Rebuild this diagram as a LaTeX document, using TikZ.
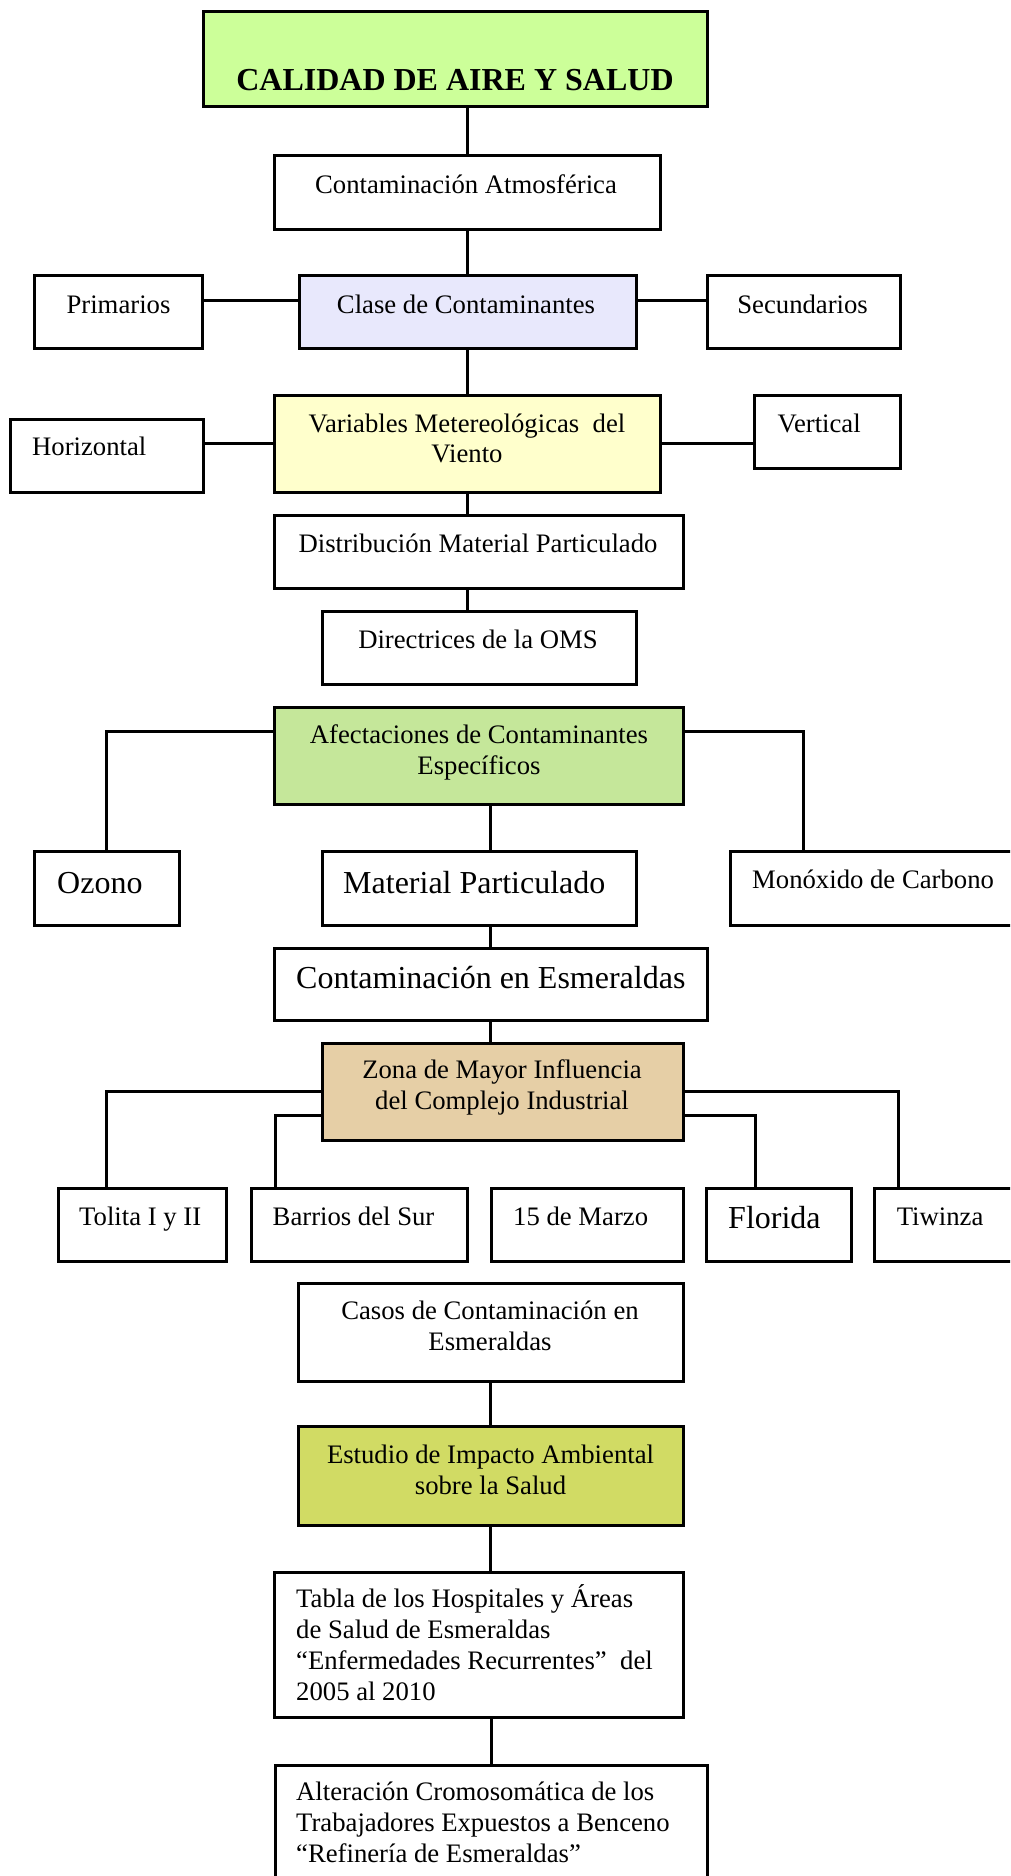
\documentclass[tikz,border=0pt]{standalone}
\usepackage{fontspec}
\setmainfont{Liberation Serif}
\newcommand\fnorm{\fontsize{26.7}{30.7}\selectfont}
\newcommand\fbig{\fontsize{32}{36.8}\selectfont}
\definecolor{cTitle}{HTML}{CCFF99}
\definecolor{cClase}{HTML}{E8E8FC}
\definecolor{cVar}{HTML}{FFFFCC}
\definecolor{cAfe}{HTML}{C5E79A}
\definecolor{cZona}{HTML}{E6CFA6}
\definecolor{cEst}{HTML}{D1DB64}
\tikzset{
  box/.style={draw=black, line width=3pt, rectangle, inner sep=0pt, outer sep=1.5pt, fill=white},
  link/.style={draw=black, line width=3pt},
  ctext/.style={anchor=base, inner sep=0pt, font=\fnorm},
  ltext/.style={anchor=base west, inner sep=0pt, font=\fnorm},
}
\begin{document}
\begin{tikzpicture}[x=1pt, y=-1pt]
\useasboundingbox (0,0) rectangle (1010,1876);
\clip (0,0) rectangle (1010,1876);
\fill[white] (0,0) rectangle (1010,1876);

% ---- boxes ----
\node[box, fill=cTitle, minimum width=504pt, minimum height=94.5pt] (title) at (455,59.25) {};
\node[box, minimum width=386pt, minimum height=74pt] (ca) at (467,192) {};
\node[box, fill=cClase, minimum width=337pt, minimum height=72.5pt] (clase) at (467.5,311.75) {};
\node[box, minimum width=168.5pt, minimum height=72.5pt] (prim) at (118.25,311.75) {};
\node[box, minimum width=193pt, minimum height=72.5pt] (sec) at (803.5,311.75) {};
\node[box, fill=cVar, minimum width=386pt, minimum height=97pt] (var) at (467,443.5) {};
\node[box, minimum width=193pt, minimum height=73pt] (horiz) at (106.5,455.5) {};
\node[box, minimum width=146pt, minimum height=73pt] (vert) at (827,431.5) {};
\node[box, minimum width=409pt, minimum height=73pt] (dist) at (478.5,551.5) {};
\node[box, minimum width=314pt, minimum height=73pt] (oms) at (479,647.5) {};
\node[box, fill=cAfe, minimum width=408.5pt, minimum height=96.5pt] (afe) at (478.75,755.75) {};
\node[box, minimum width=145pt, minimum height=74pt] (ozono) at (106.5,888) {};
\node[box, minimum width=314pt, minimum height=74pt] (mp) at (479,888) {};
\node[box, minimum width=310pt, minimum height=74pt] (mono) at (885,888) {};
\node[box, minimum width=433pt, minimum height=72pt] (ce) at (490.5,984) {};
\node[box, fill=cZona, minimum width=361.5pt, minimum height=97pt] (zona) at (502.75,1091.5) {};
\node[box, minimum width=168pt, minimum height=72.5pt] (tolita) at (142,1224.75) {};
\node[box, minimum width=216pt, minimum height=72.5pt] (barrios) at (359,1224.75) {};
\node[box, minimum width=192.5pt, minimum height=72.5pt] (marzo) at (587.25,1224.75) {};
\node[box, minimum width=145pt, minimum height=72.5pt] (florida) at (779,1224.75) {};
\node[box, minimum width=166pt, minimum height=72.5pt] (tiwinza) at (957,1224.75) {};
\node[box, minimum width=385pt, minimum height=98pt] (casos) at (490.5,1332) {};
\node[box, fill=cEst, minimum width=385pt, minimum height=99pt] (estudio) at (490.5,1475.5) {};
\node[box, minimum width=409pt, minimum height=145pt] (tabla) at (478.5,1644.5) {};
\node[box, minimum width=432pt, minimum height=135pt] (alt) at (491,1832.5) {};

% ---- connectors ----
\draw[link] (title.south -| ca.north) -- (ca.north);
\draw[link] (ca.south) -- (ca.south |- clase.north);
\draw[link] ([yshift=11.75pt]clase.west) -- ([yshift=11.75pt]clase.west -| prim.east);
\draw[link] ([yshift=11.75pt]clase.east) -- ([yshift=11.75pt]clase.east -| sec.west);
\draw[link] (clase.south -| var.north) -- (var.north);
\draw[link] (var.west) -- (var.west -| horiz.east);
\draw[link] (var.east) -- (var.east -| vert.west);
\draw[link] (var.south) -- (var.south |- dist.north);
\draw[link] (var.south |- dist.south) -- (var.south |- oms.north);
\draw[link] ([yshift=24.25pt]afe.west) -| (ozono.north);
\draw[link] ([yshift=24.25pt]afe.east) -| ([xshift=-82pt]mono.north);
\draw[link] (ce.north |- afe.south) -- (ce.north |- mp.north);
\draw[link] (ce.north |- mp.south) -- (ce.north);
\draw[link] (ce.south) -- (ce.south |- zona.north);
\draw[link] (zona.west) -| ([xshift=-35.5pt]tolita.north);
\draw[link] ([yshift=-24pt]zona.west) -| ([xshift=-84pt]barrios.north);
\draw[link] ([yshift=-24pt]zona.east) -| ([xshift=-24pt]florida.north);
\draw[link] (zona.east) -| ([xshift=-58.5pt]tiwinza.north);
\draw[link] (casos.south) -- (estudio.north);
\draw[link] (estudio.south) -- (estudio.south |- tabla.north);
\draw[link] (alt.north |- tabla.south) -- (alt.north);

% ---- texts ----
\node[ctext, font=\fbig\bfseries] (t-title) at (455,90) {CALIDAD DE AIRE Y SALUD};
\node[ctext] (t-ca) at (466,193) {Contaminación Atmosférica};
\node[ctext] (t-prim) at (118.5,313) {Primarios};
\node[ctext] (t-clase) at (466,313) {Clase de Contaminantes};
\node[ctext] (t-sec) at (802.6,313) {Secundarios};
\node[ctext] (t-var1) at (467,432) {Variables Metereológicas\ \ del};
\node[ctext] (t-var2) at (467,462) {Viento};
\node[ltext] (t-horiz) at (32,455) {Horizontal};
\node[ltext] (t-vert) at (777.5,432) {Vertical};
\node[ctext] (t-dist) at (478,552) {Distribución Material Particulado};
\node[ctext] (t-oms) at (478,648) {Directrices de la OMS};
\node[ctext] (t-afe1) at (479,743) {Afectaciones de Contaminantes};
\node[ctext] (t-afe2) at (479,774) {Específicos};
\node[ltext, font=\fbig] (t-ozono) at (57,893) {Ozono};
\node[ltext, font=\fbig] (t-mp) at (343,893) {Material Particulado};
\node[ltext] (t-mono) at (752,888) {Monóxido de Carbono};
\node[ltext, font=\fbig] (t-ce) at (296,988) {Contaminación en Esmeraldas};
\node[ctext] (t-zona1) at (502,1078) {Zona de Mayor Influencia};
\node[ctext] (t-zona2) at (502,1109) {del Complejo Industrial};
\node[ltext] (t-tolita) at (79,1225) {Tolita I y II};
\node[ltext] (t-barrios) at (272.5,1225) {Barrios del Sur};
\node[ltext] (t-marzo) at (513,1225) {15 de Marzo};
\node[ltext, font=\fbig] (t-florida) at (728,1228) {Florida};
\node[ltext] (t-tiwinza) at (896.6,1225) {Tiwinza};
\node[ctext] (t-casos1) at (490,1319) {Casos de Contaminación en};
\node[ctext] (t-casos2) at (490,1350) {Esmeraldas};
\node[ctext] (t-est1) at (490.5,1463) {Estudio de Impacto Ambiental};
\node[ctext] (t-est2) at (490.5,1494) {sobre la Salud};
\node[ltext] (t-tabla1) at (296,1607) {Tabla de los Hospitales y Áreas};
\node[ltext] (t-tabla2) at (296,1638) {de Salud de Esmeraldas};
\node[ltext] (t-tabla3) at (296,1669) {“Enfermedades Recurrentes”\ \ del};
\node[ltext] (t-tabla4) at (296,1700) {2005 al 2010};
\node[ltext] (t-alt1) at (296,1800) {Alteración Cromosomática de los};
\node[ltext] (t-alt2) at (296,1831) {Trabajadores Expuestos a Benceno};
\node[ltext] (t-alt3) at (296,1862) {“Refinería de Esmeraldas”};
\end{tikzpicture}
\end{document}
